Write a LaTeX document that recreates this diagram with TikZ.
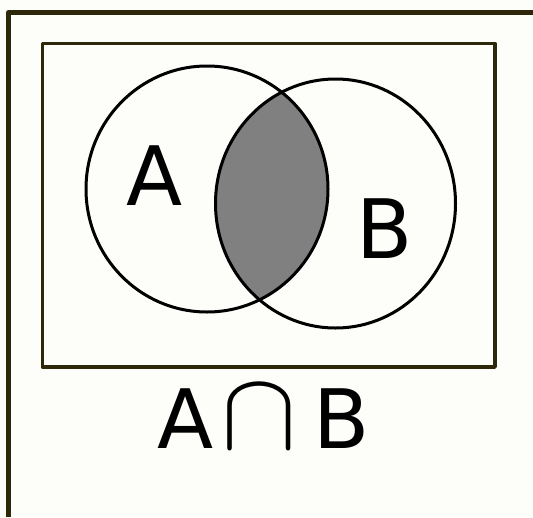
\documentclass[tikz,border=0pt]{standalone}
\usepackage{graphicx}
\usepackage{fontspec}
\setmainfont{DejaVu Sans}
\definecolor{framecol}{RGB}{45,40,10}
\definecolor{paper}{RGB}{253,253,249}
\definecolor{lensgray}{RGB}{128,128,128}
\begin{document}
\begin{tikzpicture}[x=1pt,y=-1pt,line join=round,
  venn/.style={line width=3pt,draw=black},
  big/.style={font=\fontsize{82}{90}\selectfont,inner sep=0pt,text=black}]
\fill[paper] (0,0) rectangle (533,517);
\useasboundingbox (0,0) rectangle (533,517);
% outer frame (top and left)
\draw[framecol,line width=5pt] (8.5,517) -- (8.5,12.5) -- (533,12.5);
% universe rectangle
\draw[framecol,line width=3.5pt] (42.5,43.5) rectangle (495,367);
% intersection
\begin{scope}
  \clip (207,189) ellipse [x radius=121pt,y radius=123pt];
  \fill[lensgray] (335.5,203.5) ellipse [x radius=120pt,y radius=124.5pt];
\end{scope}
\draw[venn] (207,189) ellipse [x radius=121pt,y radius=123pt];
\draw[venn] (335.5,203.5) ellipse [x radius=120pt,y radius=124.5pt];
% labels
\node[big,anchor=base] (la) at (155,205) {A};
\node[big,anchor=base west] (lb) at (356,258) {B};
\node[big,anchor=base west] (expr) at (157,448)
  {A\kern8.7pt\resizebox{75.6pt}{62pt}{$\cap$}\kern15.7pt B};
\end{tikzpicture}
\end{document}
